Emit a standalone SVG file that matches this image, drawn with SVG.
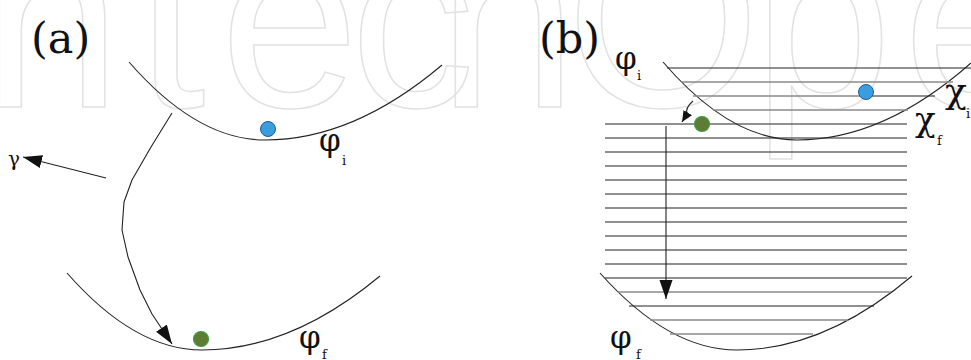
<svg xmlns="http://www.w3.org/2000/svg" width="971" height="360" viewBox="0 0 971 360">
<style>
.wm{font-family:"Liberation Sans","DejaVu Sans",sans-serif;font-size:250px;fill:none;stroke:#e2e2e2;stroke-width:1.5}
.lbl{fill:#111;font-family:"DejaVu Serif",serif}
.ttl{fill:#111;font-family:"DejaVu Serif",serif;font-size:43px}
.sym{font-size:31px}
.sub{font-size:13px}
.curve{fill:none;stroke:#222;stroke-width:1.1}
.lvl{stroke:#222;stroke-width:1.1}
.lvlg{stroke:#8a8a8a;stroke-width:1.6}
.arrow{fill:none;stroke:#222;stroke-width:1.1;stroke-linejoin:round}
.blue{fill:#3a9de0;stroke:#1d5f90;stroke-width:1}
.green{fill:#5f7c34;stroke:#3f9c46;stroke-width:1.2}
</style>
<defs>
<marker id="ah" markerUnits="userSpaceOnUse" markerWidth="20" markerHeight="14" refX="19" refY="6.5" orient="auto">
<path d="M0,0 L19,6.5 L0,13 z" fill="#111"/>
</marker>
<marker id="ahs" markerUnits="userSpaceOnUse" markerWidth="12" markerHeight="12" refX="11" refY="5" orient="auto">
<path d="M0,0 L11,5 L0,10 z" fill="#111"/>
</marker>
</defs>
<rect width="971" height="360" fill="#fff"/>
<text class="wm" x="-90 -18 136 220 350 438 566 753 903 1050" y="107">IntechOpen</text>

<g id="panel-a-label"><text class="ttl" x="31" y="53">(a)</text></g>
<g id="panel-b-label"><text class="ttl" x="539" y="53">(b)</text></g>

<g id="a-phi-i">
<path class="curve" d="M129,62 Q197,140 265,140 Q353.5,140 442,65"/>
<circle class="blue" cx="268" cy="129" r="7.5"/>
<text class="lbl sym" x="319" y="151">φ</text><text class="lbl sub" x="342" y="165">i</text>
</g>
<g id="a-phi-f">
<path class="curve" d="M67,273 Q134.5,350 202,350 Q291,350 380,276"/>
<circle class="green" cx="201" cy="339" r="7.5"/>
<text class="lbl sym" x="299" y="348">φ</text><text class="lbl sub" x="322" y="359">f</text>
</g>
<g id="a-gamma"><text class="lbl" x="8" y="166" font-size="20">γ</text></g>

<g id="b-phi-i">
<path class="curve" d="M663,62 Q730,140 797,140 Q884,140 971,63"/>
<line class="lvl" x1="667" y1="68" x2="971" y2="68"/>
<line class="lvlg" x1="681" y1="82" x2="953" y2="82"/>
<line class="lvlg" x1="693" y1="96" x2="866" y2="96"/>
<line class="lvl" x1="866" y1="96" x2="935" y2="96"/>
<line class="lvlg" x1="713" y1="110" x2="908" y2="110"/>
<circle class="blue" cx="866" cy="92" r="7.5"/>
<text class="lbl sym" x="615" y="69">φ</text><text class="lbl sub" x="637" y="80">i</text>
<text class="lbl" x="945" y="103" font-size="36">χ</text><text class="lbl sub" x="966" y="118">i</text>
</g>
<g id="b-chi-f">
<line class="lvl" x1="605" y1="124" x2="907" y2="124"/>
<line class="lvl" x1="605" y1="138" x2="907" y2="138"/>
<line class="lvl" x1="605" y1="152" x2="907" y2="152"/>
<line class="lvl" x1="605" y1="166" x2="907" y2="166"/>
<line class="lvl" x1="605" y1="180" x2="907" y2="180"/>
<line class="lvl" x1="605" y1="194" x2="907" y2="194"/>
<line class="lvl" x1="605" y1="208" x2="907" y2="208"/>
<line class="lvl" x1="605" y1="222" x2="907" y2="222"/>
<line class="lvl" x1="605" y1="236" x2="907" y2="236"/>
<line class="lvl" x1="605" y1="250" x2="907" y2="250"/>
<line class="lvl" x1="605" y1="264" x2="907" y2="264"/>
<line class="lvl" x1="605" y1="278" x2="907" y2="278"/>
<circle class="green" cx="702" cy="124" r="7.5"/>
<text class="lbl" x="915" y="131" font-size="34">χ</text><text class="lbl sub" x="937" y="145">f</text>
</g>
<g id="b-phi-f">
<path class="curve" d="M600,273 Q668.5,350 737,350 Q824.5,350 912,276"/>
<line class="lvlg" x1="618" y1="292" x2="891" y2="292"/>
<line class="lvl" x1="629" y1="306" x2="874" y2="306"/>
<line class="lvlg" x1="650" y1="320" x2="848" y2="320"/>
<line class="lvlg" x1="670" y1="334" x2="813" y2="334"/>
<text class="lbl sym" x="610" y="348">φ</text><text class="lbl sub" x="636" y="359">f</text>
</g>

<g id="connectors">
<polyline class="arrow" points="172,113 151,147 132,180 124,202 122,230 128,257 140,290 152,314 172,344" marker-end="url(#ah)"/>
<line class="arrow" x1="106" y1="178" x2="23" y2="157" marker-end="url(#ah)"/>
<line class="arrow" x1="666" y1="126" x2="666" y2="299" stroke="#444" marker-end="url(#ah)"/>
<path class="arrow" d="M693,101 Q685,108 687,114 L682,122" marker-end="url(#ahs)"/>
</g>
</svg>
